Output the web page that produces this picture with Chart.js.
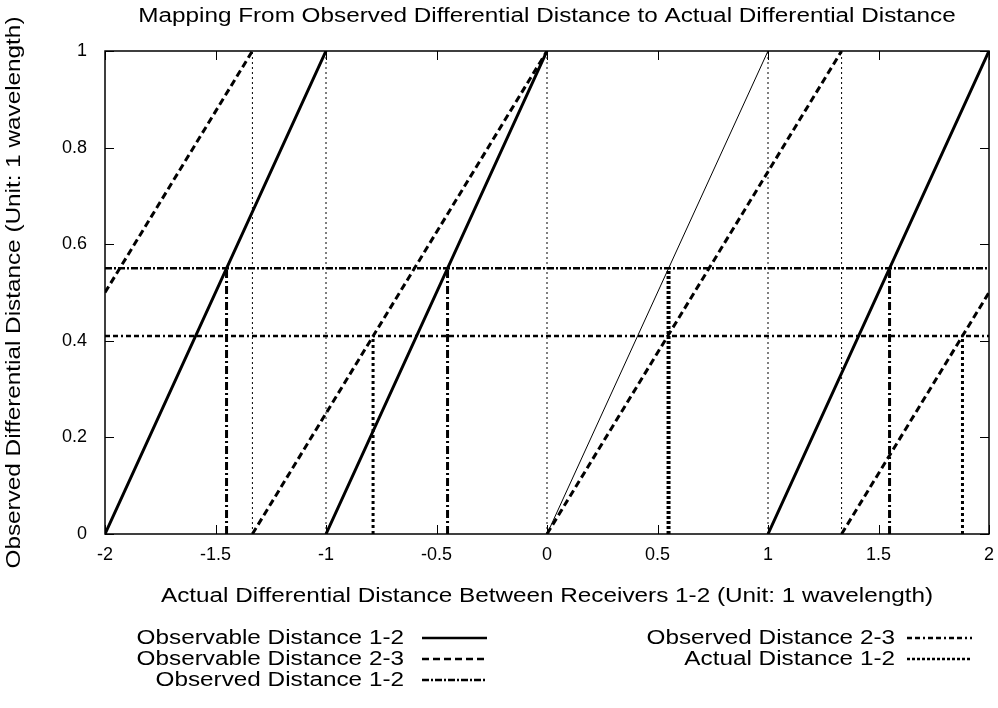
<!DOCTYPE html>
<html>
<head>
<meta charset="utf-8">
<script src="https://cdn.jsdelivr.net/npm/chart.js@4.4.0/dist/chart.umd.min.js"></script>
<style>
  html, body { margin: 0; padding: 0; background: #fff; }
  #wrap { width: 998px; height: 708px; }
</style>
</head>
<body>
<div id="wrap"><canvas id="c" width="998" height="708"></canvas></div>
<script>
// tick values
const xTickValues = [-2, -1.5, -1, -0.5, 0, 0.5, 1, 1.5, 2];
const yTickValues = [0, 0.2, 0.4, 0.6, 0.8, 1];

// observed readings (horizontal lines)
const observed12 = 0.55;
const observed23 = 0.41;

// observable distance 1-2 (sawtooth, slope 1), null = break
const obs12X = [-2, -1, null, -1, 0, null, 1, 2];
const obs12Y = [0, 1, null, 0, 1, null, 0, 1];
const obs12ThinX = [0, 1];
const obs12ThinY = [0, 1];

// observable distance 2-3 (sawtooth, slope 0.75)
const obs23X = [-2, -1.333, null, -1.333, 0, null, 0, 1.333, null, 1.333, 2];
const obs23Y = [0.5, 1, null, 0, 1, null, 0, 1, null, 0, 0.5];

// vertical jumps of the sawtooth curves
const jumpX = [-1.333, -1.333, null, -1, -1, null, 0, 0, null, 1, 1, null, 1.333, 1.333];
const jumpY = [0, 1, null, 0, 1, null, 0, 1, null, 0, 1, null, 0, 1];

// horizontal observed lines
const hLineX = [-2, 2];

// candidate actual distances (drop lines)
const drop12X = [-1.45, -0.45, 1.55];
const drop23X = [-0.787, 1.88];
const actual12X = [0.55];

const titleText = 'Mapping From Observed Differential Distance to Actual Differential Distance';
const xTitleText = 'Actual Differential Distance Between Receivers 1-2 (Unit: 1 wavelength)';
const yTitleText = 'Observed Differential Distance (Unit: 1 wavelength)';

function pts(xs, ys) {
  return xs.map((x, i) => (x === null ? { x: null, y: null } : { x: x, y: ys[i] }));
}
function drops(xs, top) {
  const out = [];
  xs.forEach((x, i) => {
    if (i > 0) out.push({ x: null, y: null });
    out.push({ x: x, y: 0 }, { x: x, y: top });
  });
  return out;
}

const FONT = "'Liberation Sans', Arial, Helvetica, sans-serif";
const black = '#000';
const TEXT_SX = 1.215; // labels in the source are drawn wide

function line(label, data, width, dash) {
  return {
    label: label,
    data: data,
    showLine: true,
    borderColor: black,
    backgroundColor: black,
    borderWidth: width,
    borderDash: dash,
    pointRadius: 0,
    pointHoverRadius: 0,
    fill: false,
    spanGaps: false,
    tension: 0
  };
}

const datasets = [
  line('', pts(jumpX, jumpY), 1, [2, 3]),
  line('', pts(obs12ThinX, obs12ThinY), 1, []),
  line('Observable Distance 1-2', pts(obs12X, obs12Y), 3, []),
  line('Observable Distance 2-3', pts(obs23X, obs23Y), 3, [7, 4]),
  line('Observed Distance 1-2', pts(hLineX, [observed12, observed12]), 2.5, [7, 2, 2, 2]),
  line('Observed Distance 2-3', pts(hLineX, [observed23, observed23]), 2.5, [5, 3, 5, 3, 2, 3]),
  line('', drops(drop12X, observed12), 3, [8, 3, 2, 3]),
  line('', drops(drop23X, observed23), 3, [3, 3]),
  line('Actual Distance 1-2', drops(actual12X, observed12), 4, [3, 2])
];

// legend layout: [label, column, row]
const legendLayout = [
  ['Observable Distance 1-2', 0, 0],
  ['Observable Distance 2-3', 0, 1],
  ['Observed Distance 1-2', 0, 2],
  ['Observed Distance 2-3', 1, 0],
  ['Actual Distance 1-2', 1, 1]
];

function wideText(ctx, text, x, y, align, rotate) {
  ctx.save();
  ctx.translate(x, y);
  if (rotate) ctx.rotate(-Math.PI / 2);
  ctx.scale(TEXT_SX, 1);
  ctx.textAlign = align;
  ctx.textBaseline = 'middle';
  ctx.fillText(text, 0, 0);
  ctx.restore();
}

const framePlugin = {
  id: 'frame',
  afterDatasetsDraw(chart) {
    const { ctx, chartArea: a, scales } = chart;
    const tl = 9;
    ctx.save();
    ctx.strokeStyle = black;
    ctx.lineWidth = 1.5;
    ctx.setLineDash([]);
    ctx.strokeRect(a.left, a.top, a.right - a.left, a.bottom - a.top);
    ctx.lineWidth = 1;
    ctx.beginPath();
    xTickValues.forEach(v => {
      const px = Math.round(scales.x.getPixelForValue(v)) + 0.5;
      ctx.moveTo(px, a.bottom); ctx.lineTo(px, a.bottom - tl);
      ctx.moveTo(px, a.top); ctx.lineTo(px, a.top + tl);
    });
    yTickValues.forEach(v => {
      const py = Math.round(scales.y.getPixelForValue(v)) + 0.5;
      ctx.moveTo(a.left, py); ctx.lineTo(a.left + tl, py);
      ctx.moveTo(a.right, py); ctx.lineTo(a.right - tl, py);
    });
    ctx.stroke();
    ctx.restore();
  },
  afterDraw(chart) {
    const { ctx, chartArea: a } = chart;
    ctx.save();
    ctx.font = '20px ' + FONT;
    ctx.fillStyle = black;
    const cx = (a.left + a.right) / 2;
    wideText(ctx, titleText, cx, 16, 'center', false);
    wideText(ctx, xTitleText, cx, 596, 'center', false);
    wideText(ctx, yTitleText, 14, (a.top + a.bottom) / 2, 'center', true);

    const cols = [{ textRight: 404, x0: 422, x1: 487 }, { textRight: 895, x0: 907, x1: 972 }];
    const rowY = [638, 659, 680];
    legendLayout.forEach(([label, c, r]) => {
      const ds = chart.data.datasets.find(d => d.label === label);
      const col = cols[c];
      const y = rowY[r];
      wideText(ctx, label, col.textRight, y, 'right', false);
      ctx.strokeStyle = black;
      ctx.lineWidth = Math.min(ds.borderWidth, 2.5);
      ctx.setLineDash(ds.borderDash);
      ctx.beginPath();
      ctx.moveTo(col.x0, y);
      ctx.lineTo(col.x1, y);
      ctx.stroke();
    });
    ctx.restore();
  }
};

new Chart(document.getElementById('c'), {
  type: 'scatter',
  data: { datasets: datasets },
  plugins: [framePlugin],
  options: {
    responsive: false,
    animation: false,
    events: [],
    layout: { padding: { left: 0, right: 9, top: 51, bottom: 97 } },
    plugins: {
      legend: { display: false },
      tooltip: { enabled: false },
      title: { display: false }
    },
    scales: {
      x: {
        type: 'linear',
        min: -2,
        max: 2,
        afterBuildTicks: s => { s.ticks = xTickValues.map(v => ({ value: v })); },
        afterFit: s => { s.height = 77; },
        grid: { display: false },
        border: { display: false },
        ticks: {
          color: black, padding: 2, maxRotation: 0,
          font: { family: FONT, size: 18 },
          callback: v => String(v)
        }
      },
      y: {
        type: 'linear',
        min: 0,
        max: 1,
        afterBuildTicks: s => { s.ticks = yTickValues.map(v => ({ value: v })); },
        afterFit: s => { s.width = 105; },
        grid: { display: false },
        border: { display: false },
        ticks: {
          color: black, padding: 10,
          font: { family: FONT, size: 18 },
          callback: v => String(v)
        }
      }
    }
  }
});
</script>
</body>
</html>
